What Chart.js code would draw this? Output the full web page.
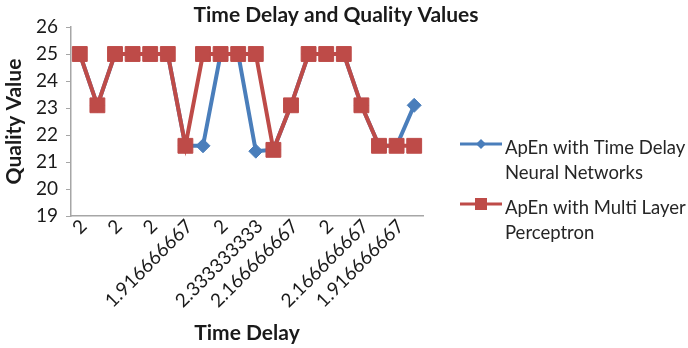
<!DOCTYPE html>
<html>
<head>
<meta charset="utf-8">
<script src="https://cdn.jsdelivr.net/npm/chart.js@4.4.1/dist/chart.umd.min.js"></script>
<style>
  html, body { margin: 0; padding: 0; background: #ffffff; }
  #wrap { position: relative; width: 688px; height: 348px; }
</style>
</head>
<body>
<div id="wrap"><canvas id="chart" width="688" height="348"></canvas></div>
<script>
// Time delay per run (category labels along the x axis)
const timeDelays = ['2', '2.083333333', '2', '2', '2', '2', '1.916666667', '2.083333333', '2', '2',
                    '2.333333333', '2.25', '2.166666667', '2', '2', '2', '2.166666667', '2.083333333', '1.916666667', '2'];
// Quality values for the two ApEn models
const tdnnQuality = [25, 23.1, 25, 25, 25, 25, 21.6, 21.6, 25, 25, 21.4, 21.45, 23.1, 25, 25, 25, 23.1, 21.6, 21.6, 23.1];
const mlpQuality  = [25, 23.1, 25, 25, 25, 25, 21.6, 25, 25, 25, 25, 21.45, 23.1, 25, 25, 25, 23.1, 21.6, 21.6, 21.6];
const seriesNames = [['ApEn with Time Delay', 'Neural Networks'], ['ApEn with Multi Layer', 'Perceptron']];
const yTicks = [19, 20, 21, 22, 23, 24, 25, 26];

const BLUE = '#4a7ebb';
const RED = '#be4b48';
const AXIS = '#a6a6a6';
const TEXT = '#1a1a1a';
const FONT = 'Lato, "Open Sans", sans-serif';

// Chart title, centred over the whole figure
const titlePlugin = {
  id: 'chartTitle',
  afterDraw(chart) {
    const ctx = chart.ctx;
    ctx.save();
    ctx.fillStyle = TEXT;
    ctx.font = 'bold 21px ' + FONT;
    ctx.textAlign = 'center';
    ctx.textBaseline = 'middle';
    ctx.fillText('Time Delay and Quality Values', 336, 15);
    ctx.restore();
  }
};

// Legend on the right with two-line entries
const legendPlugin = {
  id: 'sideLegend',
  afterDraw(chart) {
    const ctx = chart.ctx;
    const items = [
      { color: BLUE, shape: 'diamond', y: 148, lines: seriesNames[0] },
      { color: RED, shape: 'square', y: 208, lines: seriesNames[1] }
    ];
    ctx.save();
    items.forEach(it => {
      const cx = 481, cy = it.y - 4;
      ctx.strokeStyle = it.color;
      ctx.fillStyle = it.color;
      ctx.lineWidth = 3;
      ctx.beginPath();
      ctx.moveTo(460, cy);
      ctx.lineTo(502, cy);
      ctx.stroke();
      ctx.beginPath();
      if (it.shape === 'diamond') {
        ctx.moveTo(cx, cy - 5); ctx.lineTo(cx + 5, cy); ctx.lineTo(cx, cy + 5); ctx.lineTo(cx - 5, cy);
        ctx.closePath();
      } else {
        ctx.rect(cx - 6, cy - 6, 12, 12);
      }
      ctx.fill();
      ctx.fillStyle = '#262626';
      ctx.font = '18.5px ' + FONT;
      ctx.textAlign = 'left';
      ctx.textBaseline = 'middle';
      it.lines.forEach((t, i) => ctx.fillText(t, 505, it.y + i * 25));
    });
    ctx.restore();
  }
};

new Chart(document.getElementById('chart'), {
  type: 'line',
  data: {
    labels: timeDelays,
    datasets: [
      {
        label: seriesNames[0].join(' '),
        data: tdnnQuality,
        borderColor: BLUE,
        backgroundColor: BLUE,
        borderWidth: 4,
        pointStyle: 'rectRot',
        pointRadius: 7,
        pointBorderWidth: 1,
        tension: 0,
        order: 1
      },
      {
        label: seriesNames[1].join(' '),
        data: mlpQuality,
        borderColor: RED,
        backgroundColor: RED,
        borderWidth: 4,
        pointStyle: 'rect',
        pointRadius: 10.5,
        pointBorderWidth: 1,
        tension: 0,
        order: 0
      }
    ]
  },
  options: {
    responsive: false,
    animation: false,
    layout: { padding: { top: 27, right: 265, left: 0, bottom: 0 } },
    plugins: {
      legend: { display: false },
      title: { display: false },
      tooltip: { enabled: false }
    },
    scales: {
      x: {
        offset: true,
        border: { display: true, color: AXIS, width: 1.5 },
        grid: { display: true, drawOnChartArea: false, drawTicks: false, color: AXIS },
        ticks: {
          autoSkip: false,
          minRotation: 45,
          maxRotation: 45,
          padding: -1,
          labelOffset: 4,
          color: TEXT,
          font: { family: FONT, size: 19 },
          callback: function (v, i) { return i % 2 === 0 ? this.getLabelForValue(v) : ''; }
        },
        title: {
          display: true,
          text: 'Time Delay',
          color: TEXT,
          font: { family: FONT, size: 21, weight: 'bold' },
          padding: { top: 0, bottom: 2 }
        },
        afterFit(scale) { scale.height = 132; }
      },
      y: {
        min: 19,
        max: 26,
        border: { display: true, color: AXIS, width: 1.5 },
        grid: { display: true, drawOnChartArea: false, drawTicks: true, tickLength: 5, color: AXIS },
        afterBuildTicks(scale) { scale.ticks = yTicks.map(v => ({ value: v })); },
        ticks: {
          padding: 8,
          color: TEXT,
          font: { family: FONT, size: 19 }
        },
        title: {
          display: true,
          text: 'Quality Value',
          color: TEXT,
          font: { family: FONT, size: 21, weight: 'bold' },
          padding: { top: 2, bottom: 0 }
        },
        afterFit(scale) { scale.width = 71; }
      }
    }
  },
  plugins: [titlePlugin, legendPlugin]
});
</script>
</body>
</html>
